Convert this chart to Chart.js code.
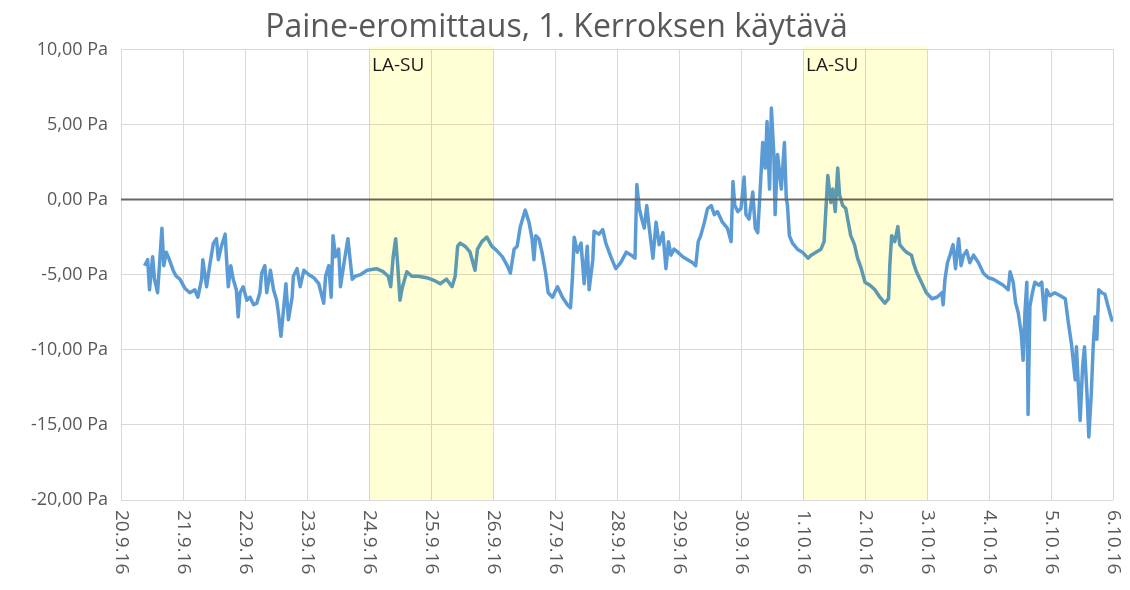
<!DOCTYPE html>
<html><head><meta charset="utf-8">
<script src="https://cdn.jsdelivr.net/npm/chart.js@4.4.0/dist/chart.umd.min.js"></script>
<style>html,body{margin:0;padding:0;background:#fff}</style>
</head><body>
<canvas id="c" width="1130" height="590"></canvas>
<script>
const titleText = 'Paine-eromittaus, 1. Kerroksen käytävä';
const xTickLabels = ['20.9.16','21.9.16','22.9.16','23.9.16','24.9.16','25.9.16','26.9.16','27.9.16',
  '28.9.16','29.9.16','30.9.16','1.10.16','2.10.16','3.10.16','4.10.16','5.10.16','6.10.16'];
const yMin = -20, yMax = 10, yStep = 5;
const bandStart = [4, 11];
const bandEnd = [6, 13];
const bandLabels = ['LA-SU', 'LA-SU'];

// time in days since 20.9.16 00:00
const sampleDays = [
  0.38,0.43,0.46,0.51,0.54,0.59,0.62,0.66,0.69,0.73,
  0.78,0.84,0.89,0.95,1.03,1.11,1.19,1.24,1.30,1.32,
  1.38,1.43,1.49,1.54,1.57,1.62,1.68,1.70,1.73,1.77,
  1.81,1.86,1.89,1.92,1.97,2.03,2.08,2.14,2.19,2.24,
  2.27,2.32,2.35,2.41,2.46,2.51,2.54,2.58,2.62,2.66,
  2.70,2.76,2.78,2.84,2.89,2.95,3.03,3.11,3.19,3.27,
  3.30,3.35,3.39,3.42,3.46,3.51,3.54,3.59,3.66,3.69,
  3.73,3.78,3.86,3.97,4.12,4.23,4.31,4.35,4.39,4.43,
  4.46,4.50,4.54,4.61,4.69,4.79,4.93,5.06,5.15,5.25,
  5.34,5.39,5.43,5.47,5.55,5.63,5.71,5.75,5.82,5.90,
  5.98,6.06,6.15,6.23,6.28,6.34,6.39,6.44,6.52,6.58,
  6.63,6.66,6.69,6.74,6.79,6.85,6.89,6.96,7.04,7.12,
  7.20,7.25,7.28,7.31,7.36,7.42,7.47,7.52,7.55,7.61,
  7.63,7.71,7.77,7.82,7.90,7.98,8.06,8.15,8.23,8.29,
  8.32,8.36,8.40,8.44,8.48,8.52,8.58,8.63,8.68,8.74,
  8.79,8.83,8.87,8.92,8.98,9.06,9.14,9.22,9.27,9.31,
  9.35,9.41,9.46,9.52,9.57,9.62,9.70,9.78,9.84,9.87,
  9.90,9.95,10.00,10.05,10.08,10.13,10.19,10.23,10.27,10.31,
  10.35,10.39,10.42,10.46,10.49,10.53,10.55,10.59,10.65,10.70,
  10.73,10.75,10.78,10.83,10.91,10.99,11.08,11.13,11.21,11.29,
  11.34,11.40,11.45,11.48,11.52,11.56,11.59,11.64,11.69,11.73,
  11.77,11.83,11.88,11.94,12.00,12.08,12.16,12.24,12.32,12.38,
  12.40,12.43,12.48,12.53,12.56,12.62,12.67,12.75,12.78,12.83,
  12.91,12.99,13.08,13.16,13.24,13.26,13.29,13.33,13.37,13.42,
  13.46,13.51,13.55,13.59,13.64,13.69,13.75,13.83,13.91,13.99,
  14.07,14.15,14.23,14.31,14.34,14.39,14.43,14.47,14.52,14.55,
  14.58,14.61,14.63,14.66,14.70,14.74,14.80,14.85,14.90,14.93,
  14.98,15.06,15.15,15.23,15.28,15.33,15.39,15.41,15.47,15.51,
  15.54,15.58,15.61,15.65,15.68,15.71,15.74,15.77,15.82,15.87,
  15.92,15.98,16.00
];
const pressurePa = [
  -4.4,-4.0,-6.0,-3.8,-5.3,-6.2,-4.4,-1.9,-4.4,-3.5,
  -4.0,-4.7,-5.1,-5.3,-5.9,-6.2,-6.0,-6.5,-5.3,-4.0,
  -5.8,-4.4,-2.9,-2.6,-4.0,-3.1,-2.3,-3.8,-5.8,-4.4,
  -5.3,-6.0,-7.8,-6.2,-5.8,-6.7,-6.5,-7.0,-6.9,-6.2,
  -4.9,-4.4,-6.2,-4.7,-6.0,-6.7,-7.6,-9.1,-7.4,-5.6,
  -8.0,-6.5,-5.1,-4.6,-5.8,-4.7,-5.0,-5.2,-5.6,-6.9,
  -5.1,-4.4,-6.5,-2.4,-3.8,-3.3,-5.8,-4.4,-2.6,-3.8,
  -5.3,-5.1,-5.0,-4.7,-4.6,-4.8,-5.1,-5.8,-3.8,-2.6,
  -4.2,-6.7,-5.8,-4.8,-5.1,-5.1,-5.2,-5.4,-5.6,-5.3,
  -5.8,-5.1,-3.1,-2.9,-3.1,-3.5,-4.7,-3.3,-2.8,-2.5,
  -3.1,-3.4,-3.8,-4.4,-4.9,-3.3,-3.1,-1.8,-0.7,-1.5,
  -2.6,-4.0,-2.4,-2.6,-3.5,-4.9,-6.2,-6.5,-5.8,-6.5,
  -7.0,-7.2,-5.3,-2.5,-3.5,-2.9,-5.6,-3.1,-6.0,-4.0,
  -2.1,-2.3,-2.0,-2.9,-3.8,-4.6,-4.2,-3.5,-3.7,-3.9,
  1.0,-0.6,-1.3,-1.9,-0.4,-1.9,-3.9,-1.5,-3.0,-2.2,
  -4.6,-2.8,-3.7,-3.3,-3.5,-3.8,-4.0,-4.2,-4.4,-2.8,
  -2.4,-1.5,-0.6,-0.4,-1.0,-0.8,-1.5,-1.9,-2.8,1.2,
  -0.4,-0.8,-0.6,1.5,-1.0,-1.3,0.5,-1.9,-2.2,0.7,
  3.8,2.1,5.2,0.7,6.1,3.0,-1.0,3.0,0.7,3.8,
  0.1,-0.4,-2.4,-2.9,-3.3,-3.5,-3.9,-3.7,-3.5,-3.3,
  -2.8,1.6,-0.2,0.7,-0.8,2.1,0.3,-0.4,-0.6,-1.5,
  -2.4,-3.0,-3.9,-4.6,-5.5,-5.7,-6.0,-6.5,-6.9,-6.6,
  -4.4,-2.4,-2.8,-1.8,-3.0,-3.3,-3.5,-3.7,-4.2,-4.8,
  -5.5,-6.2,-6.6,-6.5,-6.2,-7.0,-5.3,-4.2,-3.7,-3.0,
  -4.6,-2.6,-4.4,-3.7,-3.4,-4.2,-3.7,-4.2,-4.9,-5.2,
  -5.3,-5.5,-5.7,-6.0,-4.8,-5.5,-6.9,-7.5,-8.9,-10.7,
  -7.5,-5.5,-14.3,-7.1,-6.2,-5.5,-5.7,-5.5,-8.0,-6.0,
  -6.4,-6.2,-6.4,-6.6,-8.2,-9.6,-12.0,-9.8,-14.7,-11.1,
  -9.8,-12.9,-15.8,-12.9,-9.8,-7.8,-9.3,-6.0,-6.2,-6.3,
  -7.1,-8.0,-8.1
];

const points = sampleDays.map((d, i) => ({ x: d, y: pressurePa[i] }));

const overlayPlugin = {
  id: 'overlay',
  afterDatasetsDraw(chart) {
    const { ctx, chartArea: a, scales: { x, y } } = chart;
    ctx.save();
    // zero line on top of the data
    const y0 = y.getPixelForValue(0);
    ctx.strokeStyle = '#666666';
    ctx.lineWidth = 2;
    ctx.beginPath();
    ctx.moveTo(a.left, y0);
    ctx.lineTo(a.right, y0);
    ctx.stroke();
    // weekend bands
    ctx.globalCompositeOperation = 'multiply';
    ctx.fillStyle = 'rgb(255,254,212)';
    bandStart.forEach((s, i) => {
      const x1 = x.getPixelForValue(s), x2 = x.getPixelForValue(bandEnd[i]);
      ctx.fillRect(x1, a.top - 3, x2 - x1, a.bottom - a.top + 3);
    });
    ctx.globalCompositeOperation = 'source-over';
    ctx.fillStyle = '#1a1a1a';
    ctx.font = '19px "Open Sans"';
    ctx.textAlign = 'left';
    ctx.textBaseline = 'top';
    bandStart.forEach((s, i) => {
      ctx.fillText(bandLabels[i], x.getPixelForValue(s) + 3, a.top + 7);
    });
    ctx.restore();
  },
  afterDraw(chart) {
    const { ctx, chartArea: a, scales: { x } } = chart;
    ctx.save();
    ctx.fillStyle = '#595959';
    ctx.font = '19px "Open Sans"';
    ctx.textAlign = 'left';
    ctx.textBaseline = 'middle';
    xTickLabels.forEach((lab, i) => {
      ctx.save();
      ctx.translate(x.getPixelForValue(i), a.bottom + 10);
      ctx.rotate(Math.PI / 2);
      ctx.fillText(lab, 0, 0);
      ctx.restore();
    });
    ctx.restore();
  }
};

new Chart(document.getElementById('c'), {
  type: 'line',
  data: {
    datasets: [{
      label: 'Paine-ero',
      data: points,
      borderColor: '#5b9bd5',
      borderWidth: 3.5,
      borderJoinStyle: 'round',
      pointRadius: 0,
      fill: false,
      tension: 0
    }]
  },
  options: {
    responsive: false,
    animation: false,
    devicePixelRatio: 1,
    layout: { padding: { left: 0, right: 17, top: 0, bottom: 0 } },
    plugins: {
      legend: { display: false },
      tooltip: { enabled: false },
      title: {
        display: true,
        text: titleText,
        color: '#595959',
        font: { family: 'Open Sans', size: 32, weight: 'normal' },
        padding: { top: 9, bottom: 2 }
      }
    },
    scales: {
      x: {
        type: 'linear',
        min: 0,
        max: xTickLabels.length - 1,
        ticks: { display: false, stepSize: 1 },
        grid: { color: '#d9d9d9', lineWidth: 1, drawTicks: false },
        border: { display: false },
        afterFit(s) { s.height = 90; }
      },
      y: {
        min: yMin,
        max: yMax,
        ticks: {
          stepSize: yStep,
          padding: 13,
          color: '#595959',
          font: { family: 'Open Sans', size: 18 },
          callback: v => v.toFixed(2).replace('.', ',') + ' Pa'
        },
        grid: { color: '#d9d9d9', lineWidth: 1, drawTicks: false },
        border: { display: false },
        afterFit(s) { s.width = 121; }
      }
    }
  },
  plugins: [overlayPlugin]
});
</script>
</body></html>
